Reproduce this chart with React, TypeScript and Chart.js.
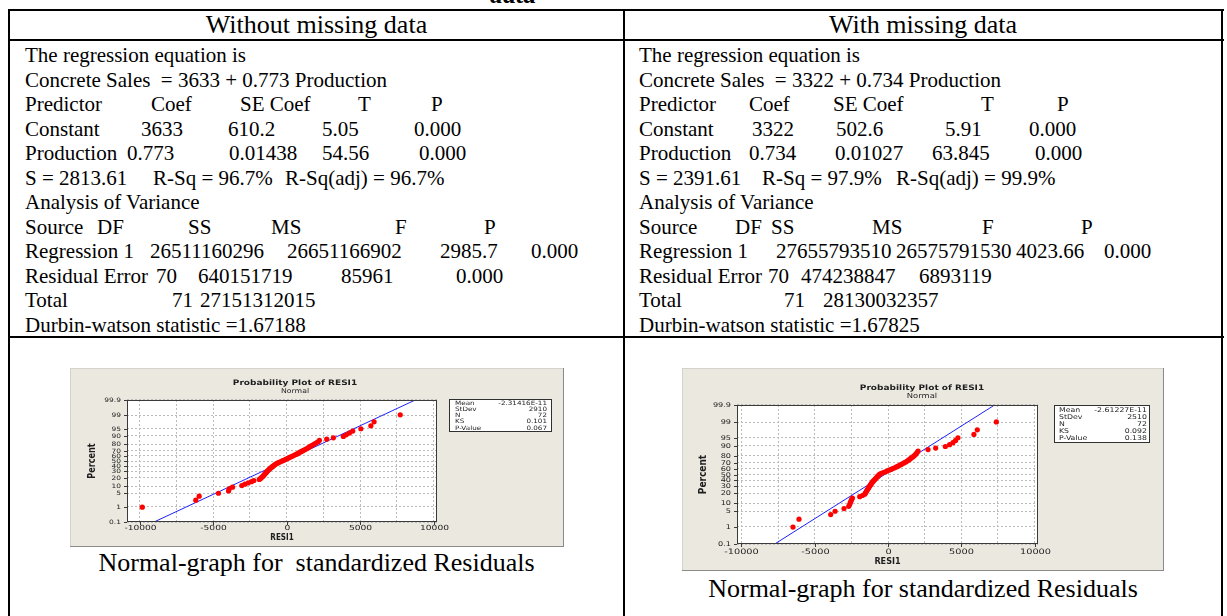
import React, { useEffect, useRef } from 'react';
import { Chart, registerables } from 'chart.js';
Chart.register(...registerables);

// ---------- data ----------
const PERCENT_TICKS = [0.1, 1, 5, 10, 20, 30, 40, 50, 60, 70, 80, 90, 95, 99, 99.9];
const PERCENT_LABELS = ['0.1', '1', '5', '10', '20', '30', '40', '50', '60', '70', '80', '90', '95', '99', '99.9'];
const X_GRID = [-10000, -7500, -5000, -2500, 0, 2500, 5000, 7500, 10000];
const X_LABELS = [-10000, -5000, 0, 5000, 10000];

// plotted percent of each ordered residual (72 points)
const PLOT_POS = [
  0.97, 2.35, 3.73, 5.11, 6.49, 7.87, 9.25, 10.64, 12.02, 13.4,
  14.78, 16.16, 17.54, 18.92, 20.3, 21.69, 23.07, 24.45, 25.83, 27.21,
  28.59, 29.97, 31.35, 32.73, 34.12, 35.5, 36.88, 38.26, 39.64, 41.02,
  42.4, 43.78, 45.17, 46.55, 47.93, 49.31, 50.69, 52.07, 53.45, 54.83,
  56.22, 57.6, 58.98, 60.36, 61.74, 63.12, 64.5, 65.88, 67.27, 68.65,
  70.03, 71.41, 72.79, 74.17, 75.55, 76.93, 78.31, 79.7, 81.08, 82.46,
  83.84, 85.22, 86.6, 87.98, 89.36, 90.75, 92.13, 93.51, 94.89, 96.27,
  97.65, 99.03,
];

const RESID_WITHOUT = [
  -9820, -6180, -5950, -4640, -3950, -3910, -3680, -3050, -2840, -2610,
  -2390, -2230, -1860, -1770, -1700, -1620, -1570, -1520, -1470, -1420,
  -1370, -1320, -1270, -1220, -1170, -1110, -1050, -990, -930, -870,
  -810, -740, -660, -560, -460, -360, -260, -160, -60, 40,
  140, 240, 340, 440, 540, 640, 740, 830, 910, 1010,
  1110, 1210, 1320, 1420, 1520, 1610, 1700, 1820, 1930, 2050,
  2160, 2230, 2730, 3180, 3860, 4050, 4270, 4500, 5050, 5730,
  5950, 7730,
];

const RESID_WITH = [
  -6480, -6070, -3910, -3610, -3000, -2680, -2610, -2570, -2520, -2480,
  -2430, -1930, -1750, -1590, -1550, -1500, -1460, -1420, -1380, -1340,
  -1300, -1260, -1220, -1180, -1140, -1100, -1060, -1010, -960, -910,
  -860, -810, -760, -710, -660, -610, -560, -450, -320, -190,
  -60, 70, 200, 320, 450, 570, 680, 790, 900, 1010,
  1120, 1230, 1330, 1420, 1500, 1590, 1690, 1780, 1860, 1930,
  1990, 2050, 2730, 3250, 3910, 4200, 4430, 4610, 4770, 5860,
  6090, 7390,
];

const FIT_P = [0.1, 99.9];
const FIT_WITHOUT_X = [-9020, 8750];
const FIT_WITH_X = [-7730, 7270];

const STAT_NAMES = ['Mean', 'StDev', 'N', 'KS', 'P-Value'];
const STATS_WITHOUT = ['-2.31416E-11', '2910', '72', '0.101', '0.067'];
const STATS_WITH = ['-2.61227E-11', '2510', '72', '0.092', '0.138'];

const HEADERS = ['Without missing data', 'With missing data'];
const CAPTIONS = ['Normal-graph for  standardized Residuals', 'Normal-graph for standardized Residuals'];

type Cell = [number, string];
const ROW_Y = [55, 80, 104, 129, 153, 178, 202, 227, 251, 276, 300, 325];
const LEFT_ROWS: Cell[][] = [
  [[25, 'The regression equation is']],
  [[25, 'Concrete Sales  = 3633 + 0.773 Production']],
  [[25, 'Predictor'], [151, 'Coef'], [240, 'SE Coef'], [358, 'T'], [431, 'P']],
  [[25, 'Constant'], [141, '3633'], [228, '610.2'], [322, '5.05'], [414, '0.000']],
  [[25, 'Production'], [127, '0.773'], [229, '0.01438'], [322, '54.56'], [419, '0.000']],
  [[25, 'S = 2813.61'], [153, 'R-Sq = 96.7%'], [285, 'R-Sq(adj) = 96.7%']],
  [[25, 'Analysis of Variance']],
  [[25, 'Source'], [97, 'DF'], [188, 'SS'], [271, 'MS'], [395, 'F'], [484, 'P']],
  [[25, 'Regression 1'], [150, '26511160296'], [287, '26651166902'], [440, '2985.7'], [531, '0.000']],
  [[25, 'Residual Error'], [156, '70'], [198, '640151719'], [341, '85961'], [456, '0.000']],
  [[25, 'Total'], [172, '71'], [200, '27151312015']],
  [[25, 'Durbin-watson statistic =1.67188']],
];
const RIGHT_ROWS: Cell[][] = [
  [[639, 'The regression equation is']],
  [[639, 'Concrete Sales  = 3322 + 0.734 Production']],
  [[639, 'Predictor'], [749, 'Coef'], [833, 'SE Coef'], [981, 'T'], [1057, 'P']],
  [[639, 'Constant'], [752, '3322'], [836, '502.6'], [945, '5.91'], [1029, '0.000']],
  [[639, 'Production'], [749, '0.734'], [835, '0.01027'], [932, '63.845'], [1035, '0.000']],
  [[639, 'S = 2391.61'], [762, 'R-Sq = 97.9%'], [896, 'R-Sq(adj) = 99.9%']],
  [[639, 'Analysis of Variance']],
  [[639, 'Source'], [735, 'DF'], [771, 'SS'], [872, 'MS'], [982, 'F'], [1081, 'P']],
  [[639, 'Regression 1'], [776, '27655793510'], [896, '26575791530'], [1016, '4023.66'], [1104, '0.000']],
  [[639, 'Residual Error'], [768, '70'], [801, '474238847'], [919, '6893119']],
  [[639, 'Total'], [784, '71'], [823, '28130032357']],
  [[639, 'Durbin-watson statistic =1.67825']],
];

// ---------- helpers ----------
function probit(p: number): number {
  const a = [-3.969683028665376e1, 2.209460984245205e2, -2.759285104469687e2, 1.38357751867269e2, -3.066479806614716e1, 2.506628277459239];
  const b = [-5.447609879822406e1, 1.615858368580409e2, -1.556989798598866e2, 6.680131188771972e1, -1.328068155288572e1];
  const c = [-7.784894002430293e-3, -3.223964580411365e-1, -2.400758277161838, -2.549732539343734, 4.374664141464968, 2.938163982698783];
  const d = [7.784695709041462e-3, 3.224671290700398e-1, 2.445134137142996, 3.754408661907416];
  const pl = 0.02425;
  if (p < pl) {
    const q = Math.sqrt(-2 * Math.log(p));
    return (((((c[0] * q + c[1]) * q + c[2]) * q + c[3]) * q + c[4]) * q + c[5]) / ((((d[0] * q + d[1]) * q + d[2]) * q + d[3]) * q + 1);
  }
  if (p <= 1 - pl) {
    const q = p - 0.5;
    const r = q * q;
    return ((((((a[0] * r + a[1]) * r + a[2]) * r + a[3]) * r + a[4]) * r + a[5]) * q) / (((((b[0] * r + b[1]) * r + b[2]) * r + b[3]) * r + b[4]) * r + 1);
  }
  const q = Math.sqrt(-2 * Math.log(1 - p));
  return -(((((c[0] * q + c[1]) * q + c[2]) * q + c[3]) * q + c[4]) * q + c[5]) / ((((d[0] * q + d[1]) * q + d[2]) * q + d[3]) * q + 1);
}

type Cfg = {
  left: number; top: number; width: number; height: number;
  area: { l: number; t: number; r: number; b: number };
  xMin: number; xMax: number;
  titleX: number; titleY: number; subY: number;
  legend: { x: number; y: number; w: number; h: number; y0: number; dy: number; lx: number; vx: number; font: number };
  percentX: number; resiY: number; xLabelY: number; yGap: number;
  xFont: number; yFont: number; titleFont: number; subFont: number; axFont: number;
};

const CFG_WITHOUT: Cfg = {
  left: 70, top: 368, width: 494, height: 179,
  area: { l: 57, t: 32, r: 367, b: 154 },
  xMin: -10860, xMax: 10230,
  titleX: 225, titleY: 15, subY: 23,
  legend: { x: 379, y: 31, w: 103, h: 33, y0: 35, dy: 6.3, lx: 385, vx: 477, font: 6 },
  percentX: 22, resiY: 170, xLabelY: 160, yGap: 6,
  xFont: 7, yFont: 6, titleFont: 7.5, subFont: 6.5, axFont: 8,
};

const CFG_WITH: Cfg = {
  left: 682, top: 368, width: 482, height: 203,
  area: { l: 55, t: 37, r: 356, b: 176 },
  xMin: -10300, xMax: 10230,
  titleX: 240, titleY: 20, subY: 28,
  legend: { x: 372, y: 37, w: 96, h: 38, y0: 42, dy: 7, lx: 377, vx: 465, font: 6.5 },
  percentX: 21, resiY: 194, xLabelY: 184, yGap: 6,
  xFont: 7.5, yFont: 6.5, titleFont: 7.5, subFont: 7, axFont: 9,
};

const SANS = "'DejaVu Sans', Verdana, sans-serif";
const COND = "'DejaVu Sans Condensed', 'DejaVu Sans', sans-serif";

function ProbPlot({ resid, fitX, stats, cfg }: { resid: number[]; fitX: number[]; stats: string[]; cfg: Cfg }) {
  const ref = useRef<HTMLCanvasElement>(null);
  useEffect(() => {
    const canvas = ref.current!;
    const pts = resid.map((x, i) => ({ x, y: probit(PLOT_POS[i] / 100) }));
    const fit = fitX.map((x, i) => ({ x, y: probit(FIT_P[i] / 100) }));
    const yMin = probit(0.001);
    const yMax = probit(0.999);
    const ink = '#1e1e1e';
    const plugin = {
      id: 'mtbDecor',
      beforeDraw(chart: any) {
        const { ctx, chartArea: a } = chart;
        ctx.save();
        ctx.fillStyle = '#ffffff';
        ctx.fillRect(a.left, a.top, a.right - a.left, a.bottom - a.top);
        ctx.restore();
      },
      afterDraw(chart: any) {
        const { ctx, chartArea: a, scales } = chart;
        const xs = scales.x;
        const ys = scales.y;
        ctx.save();
        ctx.strokeStyle = '#3a3a3a';
        ctx.lineWidth = 1;
        ctx.strokeRect(Math.round(a.left) + 0.5, Math.round(a.top) + 0.5, Math.round(a.right - a.left) - 1, Math.round(a.bottom - a.top) - 1);
        ctx.fillStyle = ink;
        ctx.strokeStyle = '#3a3a3a';
        ctx.textAlign = 'center';
        ctx.textBaseline = 'middle';
        X_LABELS.forEach((v) => {
          const px = Math.round(xs.getPixelForValue(v)) + 0.5;
          ctx.beginPath();
          ctx.moveTo(px, a.bottom);
          ctx.lineTo(px, a.bottom + 3);
          ctx.stroke();
          ctx.save();
          ctx.translate(px, cfg.xLabelY);
          ctx.scale(1.3, 1);
          ctx.font = `${cfg.xFont}px ${SANS}`;
          ctx.fillText(String(v), 0, 0);
          ctx.restore();
        });
        PERCENT_TICKS.forEach((p, i) => {
          const py = Math.round(ys.getPixelForValue(probit(p / 100))) + 0.5;
          ctx.beginPath();
          ctx.moveTo(a.left - 3, py);
          ctx.lineTo(a.left, py);
          ctx.stroke();
          ctx.save();
          ctx.translate(a.left - cfg.yGap, py);
          ctx.scale(1.25, 1);
          ctx.textAlign = 'right';
          ctx.font = `${cfg.yFont}px ${SANS}`;
          ctx.fillText(PERCENT_LABELS[i], 0, 0);
          ctx.restore();
        });
        ctx.save();
        ctx.font = `bold ${cfg.axFont}px ${COND}`;
        ctx.textAlign = 'center';
        ctx.fillText('RESI1', (a.left + a.right) / 2, cfg.resiY);
        ctx.translate(cfg.percentX, (a.top + a.bottom) / 2);
        ctx.rotate(-Math.PI / 2);
        ctx.scale(1, 1.1);
        ctx.font = `bold ${cfg.axFont + 1}px ${COND}`;
        ctx.fillText('Percent', 0, 0);
        ctx.restore();
        ctx.save();
        ctx.textAlign = 'center';
        ctx.translate(cfg.titleX, cfg.titleY);
        ctx.scale(1.2, 1);
        ctx.font = `bold ${cfg.titleFont}px ${SANS}`;
        ctx.fillText('Probability Plot of RESI1', 0, 0);
        ctx.restore();
        ctx.save();
        ctx.textAlign = 'center';
        ctx.translate(cfg.titleX, cfg.subY);
        ctx.scale(1.2, 1);
        ctx.font = `${cfg.subFont}px ${SANS}`;
        ctx.fillText('Normal', 0, 0);
        ctx.restore();
        const L = cfg.legend;
        ctx.fillStyle = '#ffffff';
        ctx.fillRect(L.x, L.y, L.w, L.h);
        ctx.strokeStyle = '#303030';
        ctx.strokeRect(L.x + 0.5, L.y + 0.5, L.w - 1, L.h - 1);
        ctx.fillStyle = ink;
        STAT_NAMES.forEach((n, i) => {
          const yy = L.y0 + i * L.dy;
          ctx.save();
          ctx.translate(L.lx, yy);
          ctx.scale(1.2, 1);
          ctx.textAlign = 'left';
          ctx.font = `${L.font}px ${SANS}`;
          ctx.fillText(n, 0, 0);
          ctx.restore();
          ctx.save();
          ctx.translate(L.vx, yy);
          ctx.scale(1.2, 1);
          ctx.textAlign = 'right';
          ctx.font = `${L.font}px ${SANS}`;
          ctx.fillText(stats[i], 0, 0);
          ctx.restore();
        });
        ctx.restore();
      },
    };
    const chart = new Chart(canvas, {
      type: 'scatter',
      data: {
        datasets: [
          { type: 'line', data: fit, borderColor: '#2020ff', borderWidth: 1, pointRadius: 0, fill: false, order: 2 } as any,
          { type: 'scatter', data: pts, backgroundColor: '#ff0000', borderWidth: 0, pointRadius: 2.6, order: 1 } as any,
        ],
      },
      options: {
        animation: false,
        responsive: false,
        events: [],
        layout: { padding: { left: 2, right: cfg.width - cfg.area.r, top: cfg.area.t, bottom: 0 } },
        plugins: { legend: { display: false }, tooltip: { enabled: false }, title: { display: false } },
        scales: {
          x: {
            type: 'linear',
            min: cfg.xMin,
            max: cfg.xMax,
            afterBuildTicks: (ax: any) => { ax.ticks = X_GRID.map((v) => ({ value: v })); },
            ticks: { display: false },
            grid: { color: '#bcbcbc', drawTicks: false, lineWidth: 1 },
            border: { display: false, dash: [2, 2] },
            afterFit: (ax: any) => { ax.height = cfg.height - cfg.area.b; },
          },
          y: {
            type: 'linear',
            min: yMin,
            max: yMax,
            afterBuildTicks: (ax: any) => { ax.ticks = PERCENT_TICKS.map((p) => ({ value: probit(p / 100) })); },
            ticks: { display: false },
            grid: { color: '#bcbcbc', drawTicks: false, lineWidth: 1 },
            border: { display: false, dash: [2, 2] },
            afterFit: (ax: any) => { ax.width = cfg.area.l - 2; },
          },
        },
      } as any,
      plugins: [plugin],
    });
    return () => chart.destroy();
  }, [resid, fitX, stats, cfg]);
  return (
    <div
      style={{
        position: 'absolute', left: cfg.left, top: cfg.top, width: cfg.width, height: cfg.height,
        background: '#ebe8df', boxShadow: 'inset -1px -1px 0 #8a8a8a, inset 1px 1px 0 #d4d2cc',
      }}
    >
      <canvas ref={ref} width={cfg.width} height={cfg.height} style={{ display: 'block', width: cfg.width, height: cfg.height }} />
    </div>
  );
}

const SERIF = "'Liberation Serif', 'Times New Roman', serif";

function Line({ l, t, w, h }: { l: number; t: number; w: number; h: number }) {
  return <div style={{ position: 'absolute', left: l, top: t, width: w, height: h, background: '#000' }} />;
}

function Rows({ rows }: { rows: Cell[][] }) {
  return (
    <>
      {rows.map((row, ri) =>
        row.map(([x, txt], ci) => (
          <div
            key={`${ri}-${ci}`}
            style={{
              position: 'absolute', left: x, top: ROW_Y[ri] - 12, height: 24, lineHeight: '24px',
              fontFamily: SERIF, fontSize: 21, whiteSpace: 'pre', color: '#000',
            }}
          >
            {txt}
          </div>
        ))
      )}
    </>
  );
}

export default function App() {
  return (
    <div style={{ position: 'absolute', left: 0, top: 0, width: 1227, height: 616, overflow: 'hidden', background: '#fff' }}>
      <div style={{ position: 'absolute', left: 490, top: -18, fontFamily: SERIF, fontSize: 26, lineHeight: '26px', fontWeight: 'bold', fontStyle: 'italic' }}>data</div>
      <Line l={8} t={9} w={1216} h={2} />
      <Line l={8} t={39} w={1216} h={2} />
      <Line l={8} t={336} w={1216} h={2} />
      <Line l={8} t={9} w={2} h={620} />
      <Line l={623} t={9} w={2} h={620} />
      <Line l={1221} t={9} w={2} h={620} />
      <div style={{ position: 'absolute', left: 10, top: 11, width: 613, height: 28, lineHeight: '28px', textAlign: 'center', fontFamily: SERIF, fontSize: 26 }}>{HEADERS[0]}</div>
      <div style={{ position: 'absolute', left: 625, top: 11, width: 596, height: 28, lineHeight: '28px', textAlign: 'center', fontFamily: SERIF, fontSize: 26 }}>{HEADERS[1]}</div>
      <Rows rows={LEFT_ROWS} />
      <Rows rows={RIGHT_ROWS} />
      <ProbPlot resid={RESID_WITHOUT} fitX={FIT_WITHOUT_X} stats={STATS_WITHOUT} cfg={CFG_WITHOUT} />
      <ProbPlot resid={RESID_WITH} fitX={FIT_WITH_X} stats={STATS_WITH} cfg={CFG_WITH} />
      <div style={{ position: 'absolute', left: 10, top: 548, width: 613, height: 30, lineHeight: '30px', textAlign: 'center', fontFamily: SERIF, fontSize: 26, whiteSpace: 'pre' }}>{CAPTIONS[0]}</div>
      <div style={{ position: 'absolute', left: 625, top: 574, width: 596, height: 30, lineHeight: '30px', textAlign: 'center', fontFamily: SERIF, fontSize: 26, whiteSpace: 'pre' }}>{CAPTIONS[1]}</div>
    </div>
  );
}
